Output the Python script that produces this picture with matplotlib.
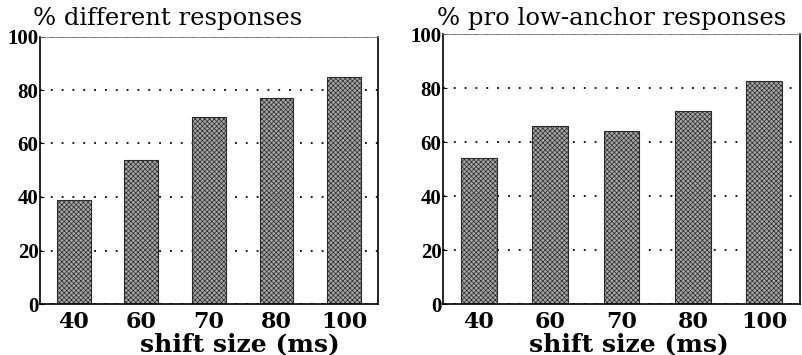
import matplotlib
matplotlib.use("Agg")
import matplotlib.pyplot as plt

# Data
shift_sizes = ["40", "60", "70", "80", "100"]
pct_different = [39, 54, 70, 77, 85]
pct_pro_low_anchor = [54, 66, 64, 71.5, 82.5]

plt.rcParams["hatch.linewidth"] = 0.5

fig = plt.figure(figsize=(8.03, 3.55), dpi=100)

W, H = 803.0, 355.0
panels = [
    # (left px, right px, top px, bottom px, values, title, title x px, xlabel center px)
    (40, 378, 36.5, 304, pct_different, "% different responses", 33, 240),
    (443, 800, 34, 304, pct_pro_low_anchor, "% pro low-anchor responses", 437, 629),
]

for left, right, top, bottom, values, title, title_x, xlab_x in panels:
    ax = fig.add_axes([left / W, (H - bottom) / H, (right - left) / W, (bottom - top) / H])
    ax.set_axisbelow(True)
    x = range(len(shift_sizes))
    ax.bar(x, values, width=0.5, color="#a6a6a6", edgecolor="#2a2a2a",
           linewidth=0.8, hatch="xxxxxxx", zorder=2)
    ax.set_xlim(-0.5, len(shift_sizes) - 0.5)
    ax.set_ylim(0, 100)
    ax.set_yticks([0, 20, 40, 60, 80, 100])
    ax.set_yticklabels(["0", "20", "40", "60", "80", "100"],
                       family="Liberation Serif", fontweight="bold", fontsize=15)
    ax.set_xticks(list(x))
    ax.set_xticklabels(shift_sizes, family="DejaVu Serif", fontweight="bold", fontsize=16)
    ax.tick_params(axis="x", length=0, pad=5)
    ax.tick_params(axis="y", length=3, width=0.8, direction="in", pad=1)
    ax.yaxis.grid(True, color="black", linestyle=(0, (1, 5)), linewidth=1.3)
    for side in ["left", "bottom", "right"]:
        ax.spines[side].set_linewidth(1.2)
    ax.spines["top"].set_linewidth(0.6)
    ax.spines["top"].set_color("#777777")

    fig.text(title_x / W, (H - 18) / H, title, family="DejaVu Serif",
             fontsize=17.5, ha="left", va="center")
    fig.text(xlab_x / W, (H - 344) / H, "shift size (ms)", family="DejaVu Serif",
             fontweight="bold", fontsize=18, ha="center", va="center")

fig.savefig("out.png", dpi=100)
